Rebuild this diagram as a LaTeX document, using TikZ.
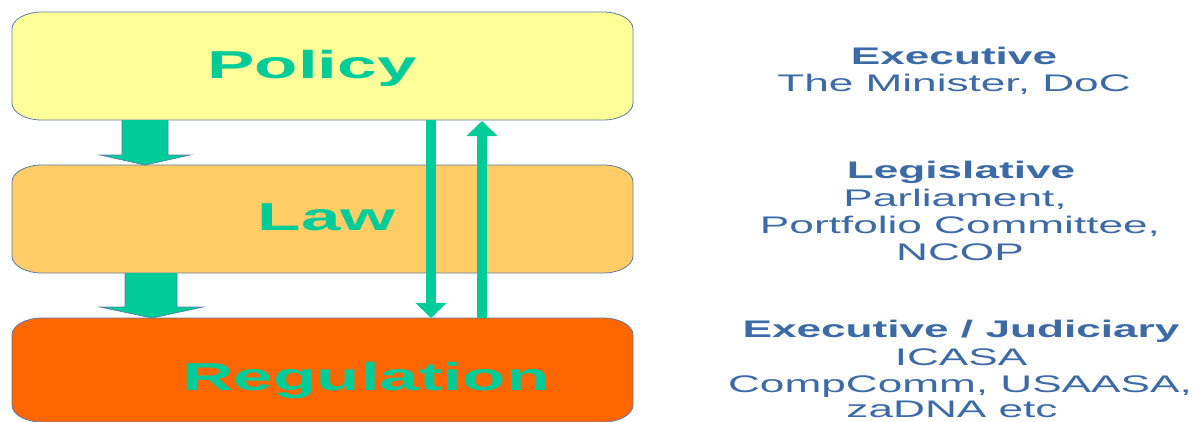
\documentclass[tikz,border=0pt]{standalone}
\usepackage{fontspec}
\setmainfont{Liberation Sans}
\newfontfamily\bigwide[FakeStretch=1.82]{Liberation Sans}
\newfontfamily\smallwide[FakeStretch=1.84]{Liberation Sans}
\usetikzlibrary{arrows.meta}
\definecolor{lblgreen}{HTML}{00CC99}
\definecolor{rtblue}{HTML}{3B6AA6}
\definecolor{edgeblue}{HTML}{5B7BA8}
\definecolor{polfill}{HTML}{FFFF99}
\definecolor{lawfill}{HTML}{FFCC66}
\definecolor{regfill}{HTML}{FF6600}
\newcommand\ellbox[2]{%
  \draw[boxline, fill=#2] ([xshift=30pt]#1.north west) -- ([xshift=-30pt]#1.north east)
    arc[start angle=90,end angle=0,x radius=30pt,y radius=17pt]
    -- ([yshift=17pt]#1.south east)
    arc[start angle=0,end angle=-90,x radius=30pt,y radius=17pt]
    -- ([xshift=30pt]#1.south west)
    arc[start angle=270,end angle=180,x radius=30pt,y radius=17pt]
    -- ([yshift=-17pt]#1.north west)
    arc[start angle=180,end angle=90,x radius=30pt,y radius=17pt] -- cycle;}
\tikzset{
  boxarea/.style={inner sep=0pt, outer sep=0pt, draw=none, minimum width=621pt},
  boxline/.style={draw=edgeblue, line width=0.8pt},
  biglabel/.style={anchor=base, inner sep=0pt, text=lblgreen, font=\bigwide\bfseries\fontsize{39}{41}\selectfont},
  rthead/.style={anchor=base, inner sep=0pt, text=rtblue, font=\smallwide\bfseries\fontsize{24}{27}\selectfont},
  rtline/.style={anchor=base, inner sep=0pt, text=rtblue, font=\smallwide\fontsize{24}{27}\selectfont},
  blockfill/.style={fill=lblgreen, draw=none},
  blockedge/.style={draw=edgeblue, line width=0.7pt, line join=miter},
  thinarrow/.style={draw=lblgreen, line width=10pt, -{Triangle[width=30pt,length=15pt]}}
}
\begin{document}
\begin{tikzpicture}[x=1pt,y=-1pt]
\useasboundingbox (0,0) rectangle (1204,421);
% box areas
\node[boxarea, minimum height=108pt] (P) at (322.5,66) {};
\node[boxarea, minimum height=108pt] (L) at (322.5,219) {};
\node[boxarea, minimum height=104pt] (R) at (322.5,370) {};
\ellbox{P}{polfill}
\ellbox{L}{lawfill}
\ellbox{R}{regfill}
% block arrows
\fill[blockfill] (122,120) -- (122,155) -- (100,155) -- (145,165) -- (190,155) -- (168,155) -- (168,120) -- cycle;
\draw[blockedge] (122,120.5) -- (122,155) -- (100,155) -- (145,165) -- (190,155) -- (168,155) -- (168,120.5);
\fill[blockfill] (125,273) -- (125,307) -- (100,307) -- (152,318) -- (203,307) -- (177,307) -- (177,273) -- cycle;
\draw[blockedge] (125,273.5) -- (125,307) -- (100,307) -- (152,318) -- (203,307) -- (177,307) -- (177,273.5);
% thin arrows
\coordinate (dx) at (431,0);
\coordinate (ux) at (482,0);
\draw[thinarrow] (P.south -| dx) -- (R.north -| dx);
\draw[thinarrow] (R.north -| ux) -- ([yshift=-1pt]P.south -| ux);
% labels
\node[biglabel] (tp) at (312,78) {Policy};
\node[biglabel] (tl) at (327,230) {Law};
\node[biglabel] (tr) at (366,390) {Regulation};
% right text
\node[rthead] (e1) at (954,64) {Executive};
\node[rtline] (e2) at (954,91) {The Minister, DoC};
\node[rthead] (l1) at (961,178) {Legislative};
\node[rtline] (l2) at (955,206) {Parliament,};
\node[rtline] (l3) at (960,233) {Portfolio Committee,};
\node[rtline] (l4) at (960,260) {NCOP};
\node[rthead] (j1) at (961,337) {Executive / Judiciary};
\node[rtline] (j2) at (961,365) {ICASA};
\node[rtline] (j3) at (960,392) {CompComm, USAASA,};
\node[rtline] (j4) at (952,417) {zaDNA etc};
\end{tikzpicture}
\end{document}
